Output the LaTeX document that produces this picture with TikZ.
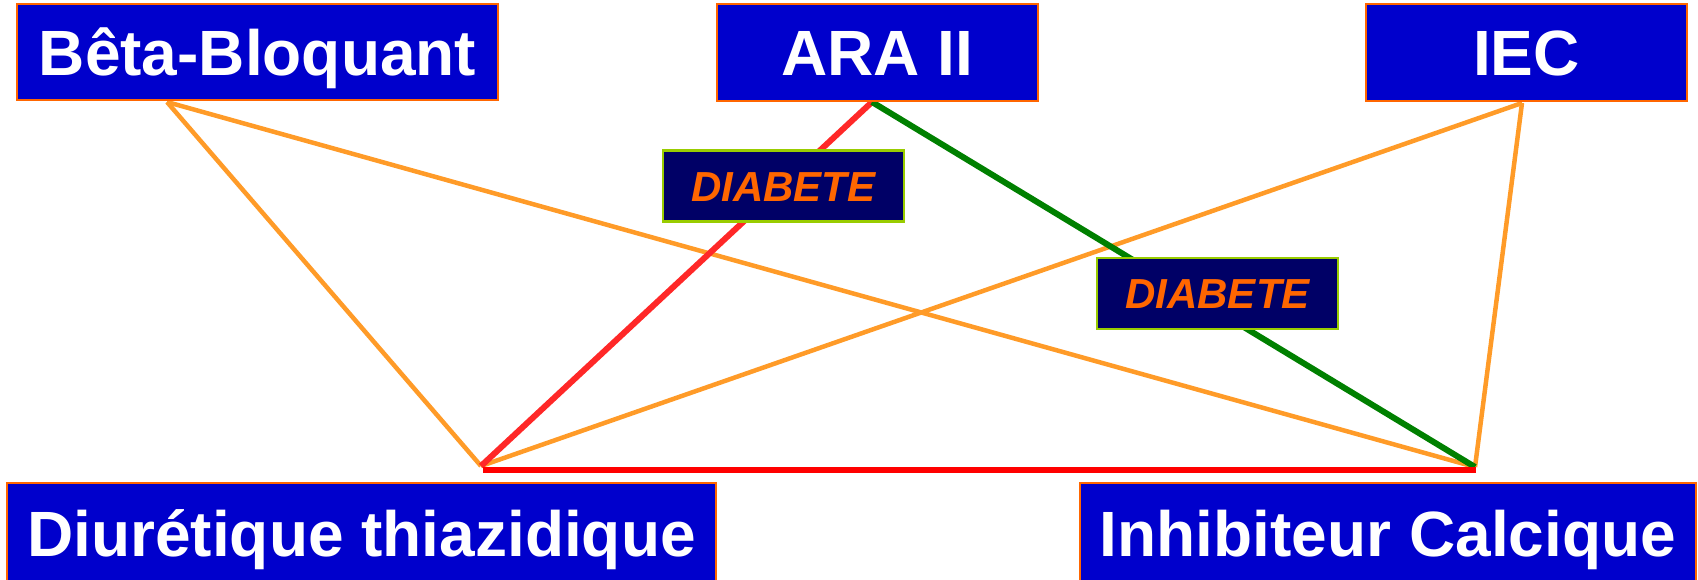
\documentclass[tikz,border=0pt]{standalone}
\usepackage{fontspec}
\setmainfont{Liberation Sans}
\definecolor{bleu}{RGB}{0,0,204}
\definecolor{marine}{RGB}{0,0,102}
\definecolor{orangebord}{RGB}{255,102,0}
\definecolor{orangetrait}{RGB}{255,155,40}
\definecolor{rouge}{RGB}{255,40,40}
\definecolor{rougevif}{RGB}{255,0,0}
\definecolor{vert}{RGB}{0,128,0}
\definecolor{anis}{RGB}{153,204,0}
\usepackage{tikz}
\usetikzlibrary{positioning}

\begin{document}
\begin{tikzpicture}[
    x=1pt, y=-1pt,
    classe/.style={rectangle, draw=orangebord, line width=2pt, fill=bleu,
      text=white, font=\bfseries\fontsize{64}{64}\selectfont,
      text height=46pt, text depth=0pt, inner sep=0pt},
    alerte/.style={rectangle, draw=anis, line width=2.5pt, fill=marine,
      text=orangebord, font=\bfseries\itshape\fontsize{42}{42}\selectfont,
      text height=30pt, text depth=0pt, inner sep=0pt,
      minimum width=241pt, minimum height=71pt},
    lien/.style={draw=orangetrait, line width=4.5pt},
  ]
    \useasboundingbox (0,0) rectangle (1698,579);

    % points de depart des traits
    \coordinate (pbeta) at (167,102);
    \coordinate (para)  at (872,102);
    \coordinate (piec)  at (1522,103);
    \coordinate (pdiu)  at (481,466);
    \coordinate (pinh)  at (1475,467);

    \draw[lien] (pbeta) -- (pdiu);
    \draw[lien] (pbeta) -- (pinh);
    \draw[lien] (piec) -- (pdiu);
    \draw[lien] (piec) -- (pinh);
    \draw[draw=rouge, line width=6pt] (para) -- (pdiu);
    \draw[draw=vert, line width=6pt] (para) -- (pinh);
    \draw[draw=rougevif, line width=5.5pt]
      ([shift={(2,4)}]pdiu) -- ([shift={(1,3)}]pinh);

    % les classes
    \node[classe, minimum width=481pt, minimum height=96pt] (beta)
      at (257.5,52) {Bêta-Bloquant};
    \node[classe, minimum width=321pt, minimum height=97pt] (ara)
      at (877.5,52.5) {ARA II};
    \node[classe, minimum width=321pt, minimum height=97pt] (iec)
      at (1526.5,52.5) {IEC};
    \node[classe, minimum width=709pt, minimum height=101pt] (diu)
      at (361.5,533.5) {Diurétique thiazidique};
    \node[classe, minimum width=616pt, minimum height=101pt] (inh)
      at (1388,533.5) {Inhibiteur Calcique};

    % contre-indications
    \node[alerte] (diab1) at (783.5,186) {DIABETE};
    \node[alerte] (diab2) at (1217.5,293.5) {DIABETE};
\end{tikzpicture}
\end{document}
